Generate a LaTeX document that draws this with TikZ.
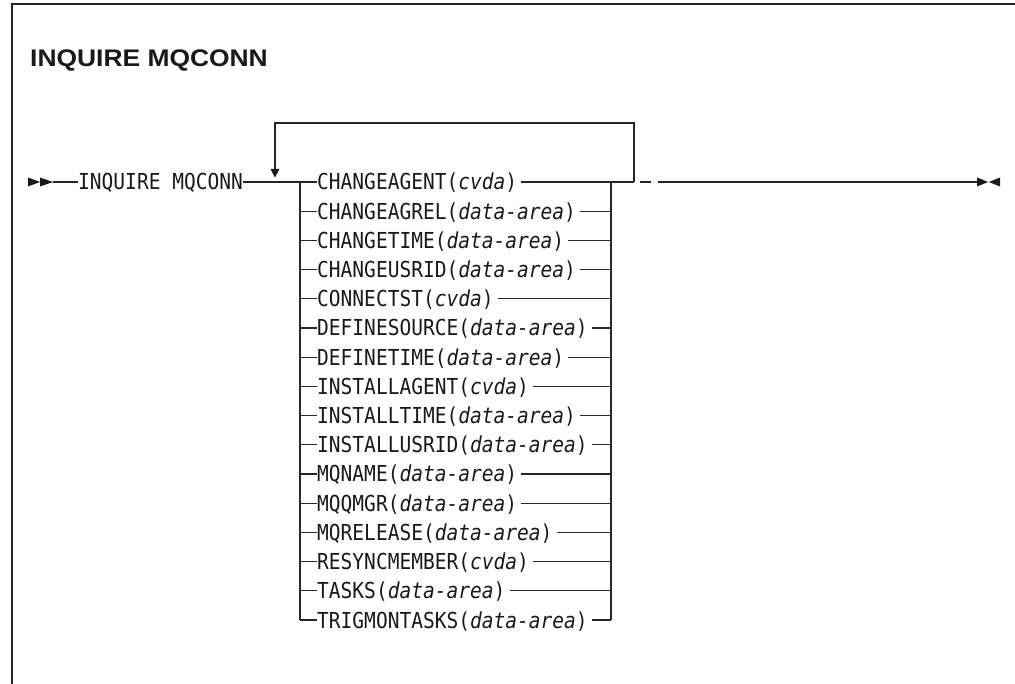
\documentclass[tikz,border=0pt]{standalone}
\usepackage{fontspec}
\setmonofont{DejaVu Sans Mono}[FakeStretch=0.888]
\newfontfamily\helv{Liberation Sans}
\begin{document}
\begin{tikzpicture}[x=1pt,y=-1pt,
  ln/.style={line width=1.2pt, draw=black!85},
  frame/.style={line width=1.5pt, draw=black!85},
  tip/.style={fill=black!90, draw=none},
  kw/.style={anchor=west, inner xsep=0pt, inner ysep=0pt, text height=17.8pt, text depth=1.8pt,
             font=\ttfamily\fontsize{22}{25}\selectfont, text=black!90}]
\useasboundingbox (0,0) rectangle (1015,684);
% frame
\draw[frame] (12,684) -- (12,4) -- (1015,4);
% title
\node[anchor=base west, inner sep=0pt, font=\helv\bfseries\fontsize{24}{28}\selectfont, text=black!90] (title) at (30,67) {\scalebox{1.1}[1]{INQUIRE MQCONN}};
% start marker
\coordinate (s0) at (28,182);
\coordinate (s1) at (40,182);
\coordinate (s2) at (53,182);
\fill[tip] (s0) ++(0,-4.5) -- ++(12,4.5) -- ++(-12,4.5) -- cycle;
\fill[tip] (s1) ++(0,-4.5) -- ++(13,4.5) -- ++(-13,4.5) -- cycle;
\node[kw] (cmd) at (78,182) {INQUIRE MQCONN};
\draw[ln] (s2) -- (cmd.west);
% junctions
\coordinate (loopdown) at (275,182);
\coordinate (jl) at (300,182);
\coordinate (jr) at (611,182);
\coordinate (loopup) at (634,182);
\coordinate (d1) at (640,182);
\coordinate (d2) at (651,182);
\coordinate (m1) at (658,182);
\coordinate (e0) at (977,182);
\coordinate (e1) at (988,182);
\coordinate (e2) at (1000,182);
% rows
\foreach \i/\t in {1/{CHANGEAGENT(\textit{cvda})},
                   2/{CHANGEAGREL(\textit{data-area})},
                   3/{CHANGETIME(\textit{data-area})},
                   4/{CHANGEUSRID(\textit{data-area})},
                   5/{CONNECTST(\textit{cvda})},
                   6/{DEFINESOURCE(\textit{data-area})},
                   7/{DEFINETIME(\textit{data-area})},
                   8/{INSTALLAGENT(\textit{cvda})},
                   9/{INSTALLTIME(\textit{data-area})},
                   10/{INSTALLUSRID(\textit{data-area})},
                   11/{MQNAME(\textit{data-area})},
                   12/{MQQMGR(\textit{data-area})},
                   13/{MQRELEASE(\textit{data-area})},
                   14/{RESYNCMEMBER(\textit{cvda})},
                   15/{TASKS(\textit{data-area})},
                   16/{TRIGMONTASKS(\textit{data-area})}}{
  \node[kw] (r\i) at (317,{182+(\i-1)*29.2}) {\t};
  \draw[ln] (jl |- r\i) -- (r\i.west);
  \draw[ln] ([xshift=4pt]r\i.east) -- (jr |- r\i);
}
% main line pieces
\draw[ln] (cmd.east) -- (jl);
\draw[ln] (jl) -- (jl |- r16);
\draw[ln] (jr) -- (jr |- r16);
\draw[ln] (jr) -- (loopup);
\draw[ln] (d1) -- (d2);
\draw[ln] (m1) -- (e0);
% repeat loop
\draw[ln] (loopup) -- (634,123) -- (275,123) -- (275,169);
\fill[tip] (loopdown) ++(-4.5,-13) -- ++(9,0) -- ++(-4.5,8.5) -- cycle;
% end marker
\fill[tip] (e0) ++(0,-4.5) -- ++(11,4.5) -- ++(-11,4.5) -- cycle;
\fill[tip] (e2) ++(0,-4.5) -- ++(-11,4.5) -- ++(11,4.5) -- cycle;
\end{tikzpicture}
\end{document}
